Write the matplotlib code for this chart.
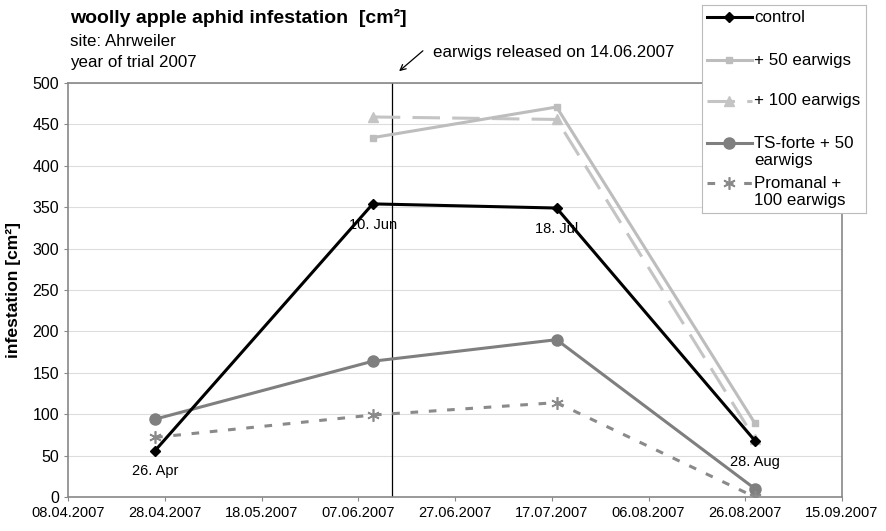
import numpy as np
import pandas as pd
from matplotlib import pyplot as plt
from matplotlib.lines import Line2D
import matplotlib.dates as mdates

plt.rcParams['font.family'] = ['Liberation Sans', 'DejaVu Sans']

# data
dates_all = ['2007-04-26', '2007-06-10', '2007-07-18', '2007-08-28']
dates_late = ['2007-06-10', '2007-07-18', '2007-08-28']
control = [56, 354, 349, 68]
plus50 = [434, 471, 89]
plus100 = [459, 456, 70]
tsforte = [94, 164, 190, 10]
promanal = [72, 99, 114, 0]
series_names = ['control', '+ 50 earwigs', '+ 100 earwigs',
                'TS-forte + 50\nearwigs', 'Promanal +\n100 earwigs']
point_labels = ['26. Apr', '10. Jun', '18. Jul', '28. Aug']
release_date = '2007-06-14'
tick_dates = pd.date_range('2007-04-08', '2007-09-15', freq='20D')

# line styles per series
styles = [
    dict(color='black', lw=2.2, marker='D', ms=5),
    dict(color='#bdbdbd', lw=2.2, marker='s', ms=4),
    dict(color='#c4c4c4', lw=2.2, marker='^', ms=7, dashes=(9, 4)),
    dict(color='#7f7f7f', lw=2.2, marker='o', ms=8),
    dict(color='#8a8a8a', lw=2.2, marker=(6, 2, 0), ms=9, mew=1.2, dashes=(2.5, 3.5)),
]

d_all = pd.to_datetime(dates_all)
d_late = pd.to_datetime(dates_late)

fig = plt.figure(figsize=(8.87, 5.31), dpi=100)
ax = fig.add_axes([68/887, 1-497/531, (842-68)/887, (497-83)/531])

ax.plot(d_all, control, zorder=5, **styles[0])
ax.plot(d_late, plus50, zorder=4, **styles[1])
ax.plot(d_late, plus100, zorder=3, **styles[2])
ax.plot(d_all, tsforte, zorder=4, **styles[3])
ax.plot(d_all, promanal, zorder=4, **styles[4])

# labels under control points
for d, v, t in zip(d_all, control, point_labels):
    ax.annotate(t, (d, v), xytext=(0, -15), textcoords='offset points',
                ha='center', va='center', fontsize=10.5)

# release line
rd = pd.to_datetime(release_date)
ax.axvline(rd, color='black', lw=0.9, zorder=2)
fig.text(433/887, 1-52/531, 'earwigs released on 14.06.2007', fontsize=12.2,
         ha='left', va='center')
ax.annotate('', xy=(397/887, 1-73/531), xycoords='figure fraction',
            xytext=(425/887, 1-49/531), textcoords='figure fraction',
            arrowprops=dict(arrowstyle='->', color='black', lw=0.9), annotation_clip=False)

ax.set_xlim(pd.Timestamp('2007-04-08'), pd.Timestamp('2007-09-15'))
ax.set_xticks(tick_dates)
ax.xaxis.set_major_formatter(mdates.DateFormatter('%d.%m.%Y'))
ax.set_ylim(0, 500)
ax.set_yticks(np.arange(0, 501, 50))
ax.tick_params(axis='x', labelsize=10.5, length=3, color='#888888')
ax.tick_params(axis='y', labelsize=11.5, length=3, color='#888888')
ax.grid(axis='y', color='#dddddd', lw=0.8)
ax.set_axisbelow(True)
for s in ax.spines.values():
    s.set_color('#888888')
    s.set_linewidth(1.2)

ax.set_ylabel('infestation [cm²]', fontsize=12.6, fontweight='bold')
ax.yaxis.set_label_coords(-0.061, 0.5)

fig.text(70/887, 1-18/531, 'woolly apple aphid infestation  [cm²]', fontsize=14,
         fontweight='bold', ha='left', va='center')
fig.text(70/887, 1-42/531, 'site: Ahrweiler', fontsize=12.2, ha='left', va='center')
fig.text(70/887, 1-62/531, 'year of trial 2007', fontsize=12.2, ha='left', va='center')

# legend box drawn by hand (Excel style: rows top aligned), in pixel units
lx0, lx1, ly0, ly1 = 702, 866, 5, 213
lax = fig.add_axes([lx0/887, 1-ly1/531, (lx1-lx0)/887, (ly1-ly0)/531])
lax.set_xlim(lx0, lx1)
lax.set_ylim(ly1, ly0)
lax.set_xticks([])
lax.set_yticks([])
for s in lax.spines.values():
    s.set_color('#bbbbbb')
    s.set_linewidth(0.8)
row_y = [17, 60, 101, 143, 183]
for y, name, st in zip(row_y, series_names, styles):
    lax.add_line(Line2D([707, 752], [y, y], markevery=[], **st))
    lax.add_line(Line2D([729.5], [y], **{k: v for k, v in st.items() if k != 'dashes'}))
    lax.text(754, y - 7.5, name, fontsize=12.2, ha='left', va='top', linespacing=1.2)

fig.savefig('out.png', dpi=100)
